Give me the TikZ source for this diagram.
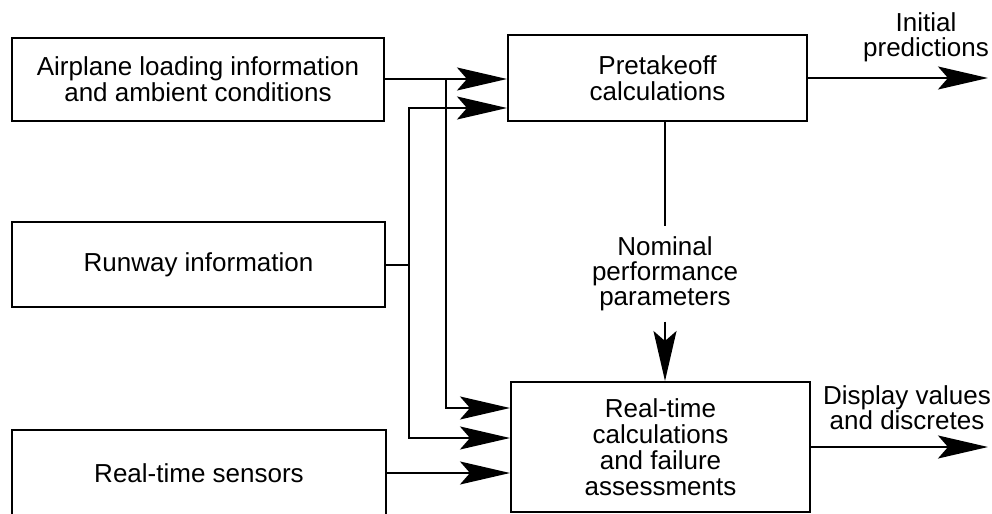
\documentclass[tikz,border=0pt]{standalone}
\usepackage{fontspec}
\setmainfont{Liberation Sans}
\usetikzlibrary{calc}
\usetikzlibrary{arrows.meta}

\tikzset{
  blk/.style={draw=black, line width=1pt, inner sep=0pt, align=center, font=\fontsize{13pt}{13pt}\selectfont},
  lbl/.style={inner sep=0pt, align=center, font=\fontsize{13pt}{12.5pt}\selectfont},
  arr/.style={line width=1pt, -{Stealth[length=25pt,width=11.5pt,inset=5pt]}},
  ln/.style={line width=1pt}
}

\begin{document}
\begin{tikzpicture}[x=0.5pt,y=-0.5pt]
\useasboundingbox (0,0) rectangle (992,514);
\node[blk, minimum width=186pt, minimum height=41.5pt] (load) at (198,79) {Airplane loading information\\and ambient conditions};
\node[blk, minimum width=186.5pt, minimum height=42.5pt] (runway) at (198.5,264.5) {Runway information};
\node[blk, minimum width=187pt, minimum height=43pt] (sensors) at (199,473) {Real-time sensors};
\node[blk, minimum width=149.5pt, minimum height=43pt] (pre) at (657.5,78) {Pretakeoff\\calculations};
\node[blk, minimum width=149.5pt, minimum height=65pt] (rt) at (660.5,447) {Real-time\\calculations\\and failure\\assessments};
\node[lbl, inner ysep=5pt] (nom) at (665,274) {Nominal\\performance\\parameters};
\node[lbl] (initlbl) at (926,37) {Initial\\predictions};
\node[lbl] (displbl) at (907,407.5) {Display values\\and discretes};

\coordinate (tapL) at (446,79);
\coordinate (tapR) at (409,264.5);
\coordinate (outA) at (988,78);
\coordinate (outB) at (988,447);

% inputs
\draw[arr] (load.east) -- (load.east -| pre.west);
\draw[ln] (runway.east) -- (tapR);
\draw[arr] (tapR) |- ($(pre.west)+(0,30)$);
\draw[arr] (tapL) |- ($(rt.west)+(0,-39)$);
\draw[arr] (tapR) |- ($(rt.west)+(0,-9)$);
\draw[arr] (sensors.east) -- (sensors.east -| rt.west);

% nominal parameters
\draw[ln] (pre.south -| nom.north) -- (nom.north);
\draw[arr] (nom.south) -- (rt.north -| nom.south);

% outputs
\draw[arr] (pre.east) -- (outA);
\draw[arr] (rt.east) -- (outB);
\end{tikzpicture}
\end{document}
